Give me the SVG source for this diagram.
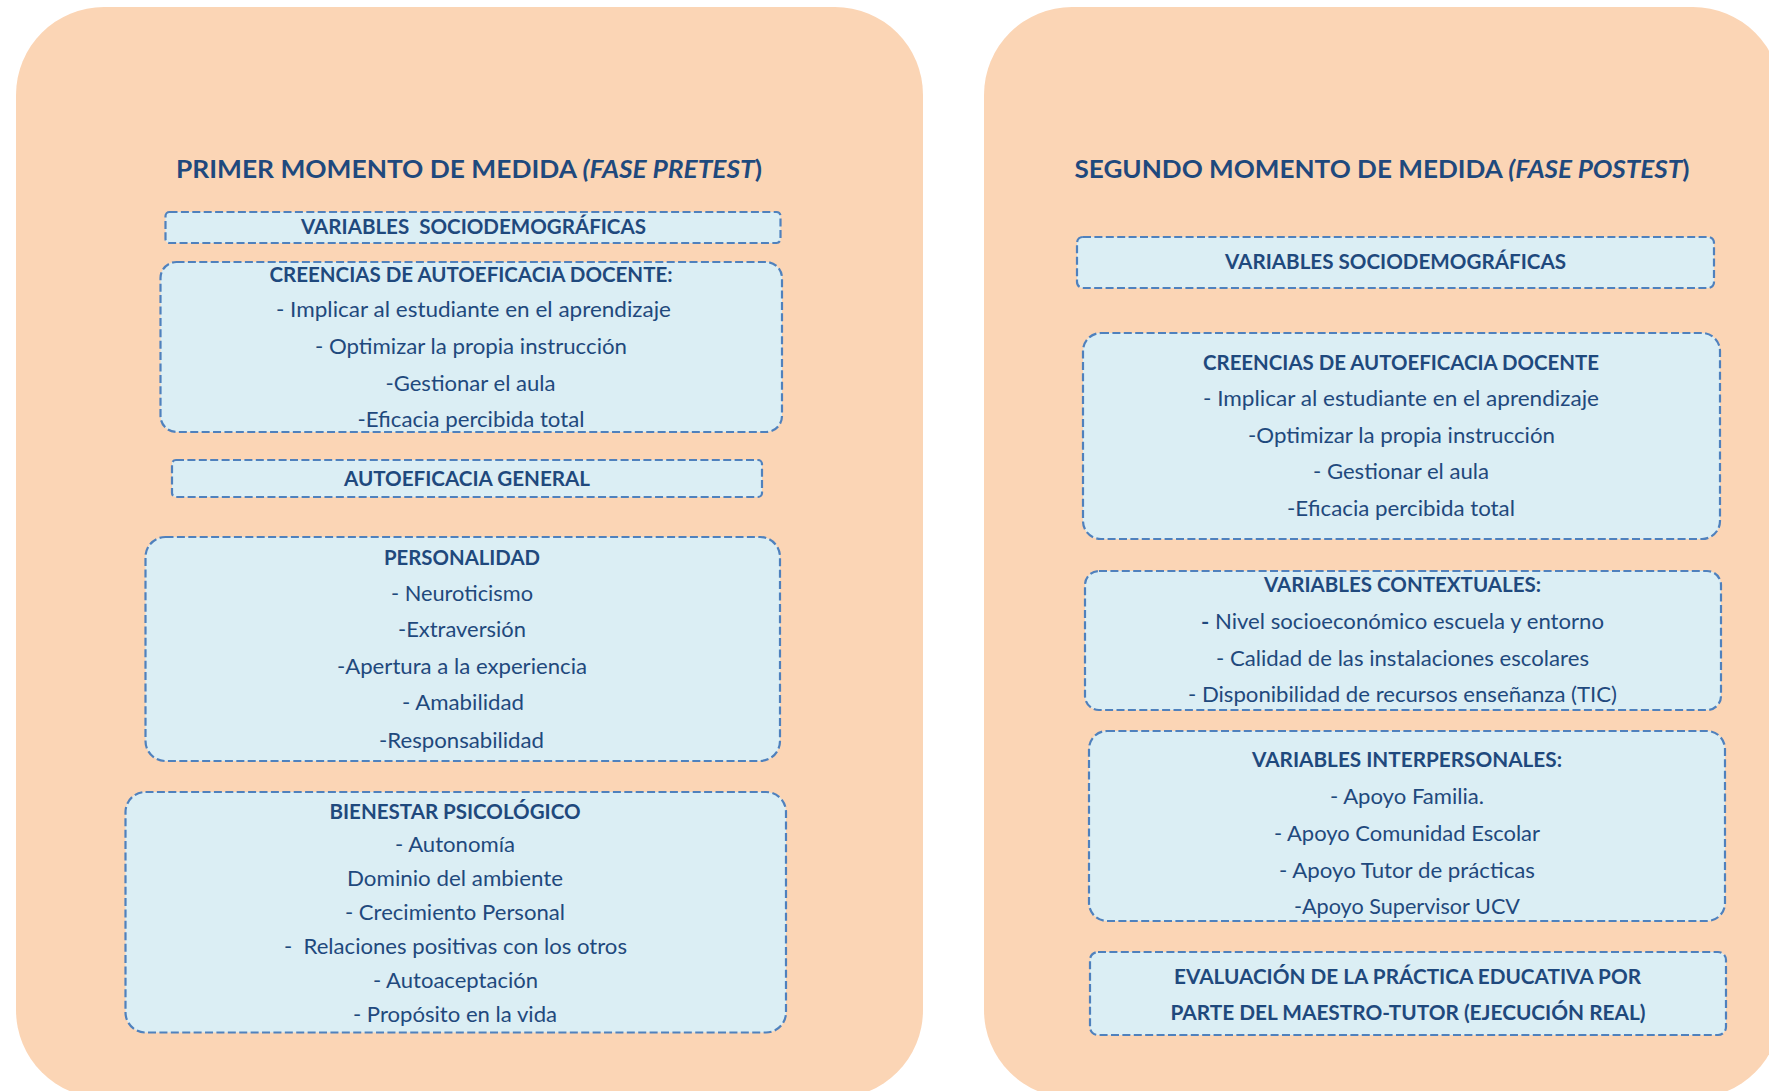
<svg xmlns="http://www.w3.org/2000/svg" width="1769" height="1091" viewBox="0 0 1769 1091">
  <style>
    .panel { fill: #FBD5B5; }
    .box { fill: #DBEEF4; stroke: #4F81BD; stroke-width: 2.2; stroke-dasharray: 8 3.4; }
    .t { font-family: Lato, "Open Sans", "Liberation Sans", sans-serif; font-size: 20.5px; fill: #1F497D; text-anchor: middle; }
    .h { font-weight: bold; font-size: 21px; }
    .title { font-weight: bold; font-size: 24px; }
    .it { font-style: italic; }
  </style>

  <rect width="1769" height="1091" fill="#FFFFFF"/>

  <!-- Phase panels -->
  <g id="panel-pretest">
    <rect class="panel" x="16" y="7" width="907" height="1091" rx="88" ry="88"/>
    <text class="t title" x="469" y="178" textLength="586" lengthAdjust="spacingAndGlyphs">PRIMER MOMENTO DE MEDIDA <tspan class="it">(FASE PRETEST</tspan>)</text>
  </g>
  <g id="panel-postest">
    <rect class="panel" x="984" y="7" width="797" height="1091" rx="88" ry="88"/>
    <text class="t title" x="1382" y="178" textLength="615" lengthAdjust="spacingAndGlyphs">SEGUNDO MOMENTO DE MEDIDA <tspan class="it">(FASE POSTEST</tspan>)</text>
  </g>

  <!-- Pretest measures -->
  <g id="pre-sociodemograficas">
    <rect class="box" x="165.5" y="212" width="615" height="31" rx="4"/>
    <text class="t h" x="473.5" y="234" textLength="345" lengthAdjust="spacingAndGlyphs" xml:space="preserve">VARIABLES  SOCIODEMOGRÁFICAS</text>
  </g>

  <g id="pre-autoeficacia-docente">
    <rect class="box" x="160.5" y="262" width="621.5" height="170" rx="16"/>
    <text class="t h" x="471" y="282" textLength="403" lengthAdjust="spacingAndGlyphs">CREENCIAS DE AUTOEFICACIA DOCENTE:</text>
    <text class="t" x="473.5" y="317" textLength="395" lengthAdjust="spacingAndGlyphs">- Implicar al estudiante en el aprendizaje</text>
    <text class="t" x="471" y="354" textLength="312" lengthAdjust="spacingAndGlyphs">- Optimizar la propia instrucción</text>
    <text class="t" x="470.5" y="391" textLength="170" lengthAdjust="spacingAndGlyphs">-Gestionar el aula</text>
    <text class="t" x="471" y="427" textLength="227" lengthAdjust="spacingAndGlyphs">-Eficacia percibida total</text>
  </g>

  <g id="pre-autoeficacia-general">
    <rect class="box" x="172" y="460" width="590" height="37" rx="4"/>
    <text class="t h" x="467" y="485.5" textLength="246" lengthAdjust="spacingAndGlyphs">AUTOEFICACIA GENERAL</text>
  </g>

  <g id="pre-personalidad">
    <rect class="box" x="145.5" y="537" width="634.5" height="224" rx="20"/>
    <text class="t h" x="462" y="565" textLength="156" lengthAdjust="spacingAndGlyphs">PERSONALIDAD</text>
    <text class="t" x="462" y="601" textLength="142" lengthAdjust="spacingAndGlyphs">- Neuroticismo</text>
    <text class="t" x="462" y="637" textLength="128" lengthAdjust="spacingAndGlyphs">-Extraversión</text>
    <text class="t" x="462" y="674" textLength="250" lengthAdjust="spacingAndGlyphs">-Apertura a la experiencia</text>
    <text class="t" x="463" y="710" textLength="122" lengthAdjust="spacingAndGlyphs">- Amabilidad</text>
    <text class="t" x="461.5" y="748" textLength="165" lengthAdjust="spacingAndGlyphs">-Responsabilidad</text>
  </g>

  <g id="pre-bienestar">
    <rect class="box" x="125.5" y="792" width="660.5" height="240.5" rx="20"/>
    <text class="t h" x="455" y="819" textLength="251" lengthAdjust="spacingAndGlyphs">BIENESTAR PSICOLÓGICO</text>
    <text class="t" x="455" y="852" textLength="120" lengthAdjust="spacingAndGlyphs">- Autonomía</text>
    <text class="t" x="455" y="886" textLength="216" lengthAdjust="spacingAndGlyphs">Dominio del ambiente</text>
    <text class="t" x="455" y="920" textLength="220" lengthAdjust="spacingAndGlyphs">- Crecimiento Personal</text>
    <text class="t" x="455.5" y="954" textLength="343" lengthAdjust="spacingAndGlyphs" xml:space="preserve">-  Relaciones positivas con los otros</text>
    <text class="t" x="455.5" y="988" textLength="165" lengthAdjust="spacingAndGlyphs">- Autoaceptación</text>
    <text class="t" x="455" y="1022" textLength="204" lengthAdjust="spacingAndGlyphs">- Propósito en la vida</text>
  </g>

  <!-- Postest measures -->
  <g id="post-sociodemograficas">
    <rect class="box" x="1077" y="237" width="637" height="51" rx="6"/>
    <text class="t h" x="1395.5" y="268.5" textLength="341" lengthAdjust="spacingAndGlyphs">VARIABLES SOCIODEMOGRÁFICAS</text>
  </g>

  <g id="post-autoeficacia-docente">
    <rect class="box" x="1083" y="333" width="637" height="206" rx="18"/>
    <text class="t h" x="1401" y="369.5" textLength="396" lengthAdjust="spacingAndGlyphs">CREENCIAS DE AUTOEFICACIA DOCENTE</text>
    <text class="t" x="1401" y="405.5" textLength="396" lengthAdjust="spacingAndGlyphs">- Implicar al estudiante en el aprendizaje</text>
    <text class="t" x="1401.5" y="442.5" textLength="307" lengthAdjust="spacingAndGlyphs">-Optimizar la propia instrucción</text>
    <text class="t" x="1401" y="478.5" textLength="176" lengthAdjust="spacingAndGlyphs">- Gestionar el aula</text>
    <text class="t" x="1401" y="515.5" textLength="228" lengthAdjust="spacingAndGlyphs">-Eficacia percibida total</text>
  </g>

  <g id="post-contextuales">
    <rect class="box" x="1085" y="571" width="636" height="139" rx="14"/>
    <text class="t h" x="1402.5" y="592" textLength="277" lengthAdjust="spacingAndGlyphs">VARIABLES CONTEXTUALES:</text>
    <text class="t" x="1402.5" y="628.5" textLength="403" lengthAdjust="spacingAndGlyphs"><tspan font-weight="bold">-</tspan> Nivel socioeconómico escuela y entorno</text>
    <text class="t" x="1402.5" y="665.5" textLength="373" lengthAdjust="spacingAndGlyphs">- Calidad de las instalaciones escolares</text>
    <text class="t" x="1402.5" y="701.5" textLength="429" lengthAdjust="spacingAndGlyphs">- Disponibilidad de recursos enseñanza (TIC)</text>
  </g>

  <g id="post-interpersonales">
    <rect class="box" x="1089" y="731" width="636" height="190" rx="18"/>
    <text class="t h" x="1407" y="766.5" textLength="310" lengthAdjust="spacingAndGlyphs">VARIABLES INTERPERSONALES:</text>
    <text class="t" x="1407" y="803.5" textLength="154" lengthAdjust="spacingAndGlyphs">- Apoyo Familia.</text>
    <text class="t" x="1407" y="840.5" textLength="266" lengthAdjust="spacingAndGlyphs">- Apoyo Comunidad Escolar</text>
    <text class="t" x="1407" y="877.5" textLength="256" lengthAdjust="spacingAndGlyphs">- Apoyo Tutor de prácticas</text>
    <text class="t" x="1407" y="913.5" textLength="226" lengthAdjust="spacingAndGlyphs">-Apoyo Supervisor UCV</text>
  </g>

  <g id="post-evaluacion">
    <rect class="box" x="1090" y="952" width="636" height="83" rx="8"/>
    <text class="t h" x="1407.5" y="983.5" textLength="467" lengthAdjust="spacingAndGlyphs">EVALUACIÓN DE LA PRÁCTICA EDUCATIVA POR</text>
    <text class="t h" x="1408" y="1020" textLength="475" lengthAdjust="spacingAndGlyphs">PARTE DEL MAESTRO-TUTOR (EJECUCIÓN REAL)</text>
  </g>
</svg>
